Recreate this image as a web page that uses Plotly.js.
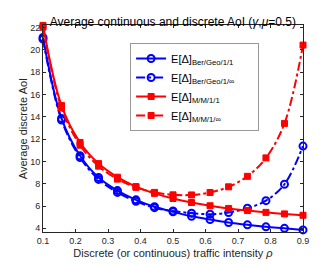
<!DOCTYPE html>
<html>
<head>
<meta charset="utf-8">
<script src="https://cdn.plot.ly/plotly-3.0.1.min.js"></script>
<style>
  html, body { margin: 0; padding: 0; background: #fff; }
  #chart { width: 328px; height: 265px; }
</style>
</head>
<body>
<div id="chart"></div>
<script>
// traffic intensity samples (15 points from 0.1 to 0.9)
var rho = [0.1, 0.157, 0.214, 0.271, 0.329, 0.386, 0.443, 0.5, 0.557, 0.614, 0.671, 0.729, 0.786, 0.843, 0.9];

// values
var berGeo11 = [21.1, 13.85, 10.5, 8.55, 7.38, 6.55, 5.93, 5.48, 5.08, 4.78, 4.52, 4.31, 4.13, 4.0, 3.86];
var berGeoInf = [20.95, 13.7, 10.35, 8.38, 7.22, 6.42, 5.85, 5.55, 5.36, 5.27, 5.41, 5.8, 6.48, 7.95, 11.37];
var mm11 = [22.18, 15.0, 11.69, 9.8, 8.58, 7.74, 7.13, 6.67, 6.31, 6.02, 5.78, 5.59, 5.43, 5.29, 5.17];
var mm1Inf = [22.02, 14.79, 11.45, 9.57, 8.41, 7.67, 7.22, 7.0, 6.99, 7.21, 7.72, 8.66, 10.31, 13.4, 20.42];

var pad = "&nbsp;&nbsp;&nbsp;&nbsp;&nbsp;&nbsp;";
var names = [
  "E[Δ]<sub>Ber/Geo/1/1</sub>" + pad,
  "E[Δ]<sub>Ber/Geo/1/∞</sub>" + pad,
  "E[Δ]<sub>M/M/1/1</sub>" + pad,
  "E[Δ]<sub>M/M/1/∞</sub>" + pad
];

var font = "Liberation Sans, Arial, sans-serif";

function makeTrace(y, name, color, dash, symbol) {
  return {
    x: rho,
    y: y,
    name: name,
    type: "scatter",
    mode: "lines+markers",
    cliponaxis: false,
    line: { color: color, width: 2, dash: dash, shape: "spline", smoothing: 1 },
    marker: symbol == "circle-open"
      ? { symbol: symbol, size: 7, color: color, line: { color: color, width: 2 } }
      : { symbol: symbol, size: 6, color: color, line: { color: color, width: 1 } }
  };
}

var data = [
  makeTrace(berGeo11, names[0], "#0000ff", "solid", "circle-open"),
  makeTrace(berGeoInf, names[1], "#0000ff", "dashdot", "circle-open"),
  makeTrace(mm11, names[2], "#ff0000", "solid", "square"),
  makeTrace(mm1Inf, names[3], "#ff0000", "dashdot", "square")
];

var axisStyle = {
  showline: true,
  linecolor: "#262626",
  linewidth: 1,
  mirror: "ticks",
  ticks: "inside",
  ticklen: 3,
  tickcolor: "#262626",
  showgrid: false,
  zeroline: false,
  tickfont: { family: font, size: 9, color: "#262626" }
};

var layout = {
  width: 328,
  height: 265,
  paper_bgcolor: "#ffffff",
  plot_bgcolor: "#ffffff",
  margin: { l: 43, r: 25, t: 25, b: 33 },
  title: {
    text: "Average continuous and discrete AoI (<i>γ</i>,<i>μ</i>=0.5)",
    font: { family: font, size: 12, color: "#000" },
    x: 0.527,
    xanchor: "center",
    y: 0.918,
    yanchor: "middle"
  },
  xaxis: Object.assign({}, axisStyle, {
    range: [0.1, 0.9],
    tickvals: [0.1, 0.2, 0.3, 0.4, 0.5, 0.6, 0.7, 0.8, 0.9],
    title: {
      text: "Discrete (or continuous) traffic intensity <i>ρ</i>",
      font: { family: font, size: 11, color: "#262626" },
      standoff: 4
    }
  }),
  yaxis: Object.assign({}, axisStyle, {
    range: [3.67, 22.22],
    tickvals: [4, 6, 8, 10, 12, 14, 16, 18, 20, 22],
    title: {
      text: "Average discrete AoI",
      font: { family: font, size: 11, color: "#262626" },
      standoff: 0
    }
  }),
  showlegend: true,
  legend: {
    x: 0.335,
    y: 0.913,
    xanchor: "left",
    yanchor: "top",
    bgcolor: "#ffffff",
    bordercolor: "#999999",
    borderwidth: 1,
    font: { family: font, size: 11, color: "#000" },
    tracegroupgap: 0
  }
};

Plotly.newPlot("chart", data, layout, { displayModeBar: false, staticPlot: true });
</script>
</body>
</html>
